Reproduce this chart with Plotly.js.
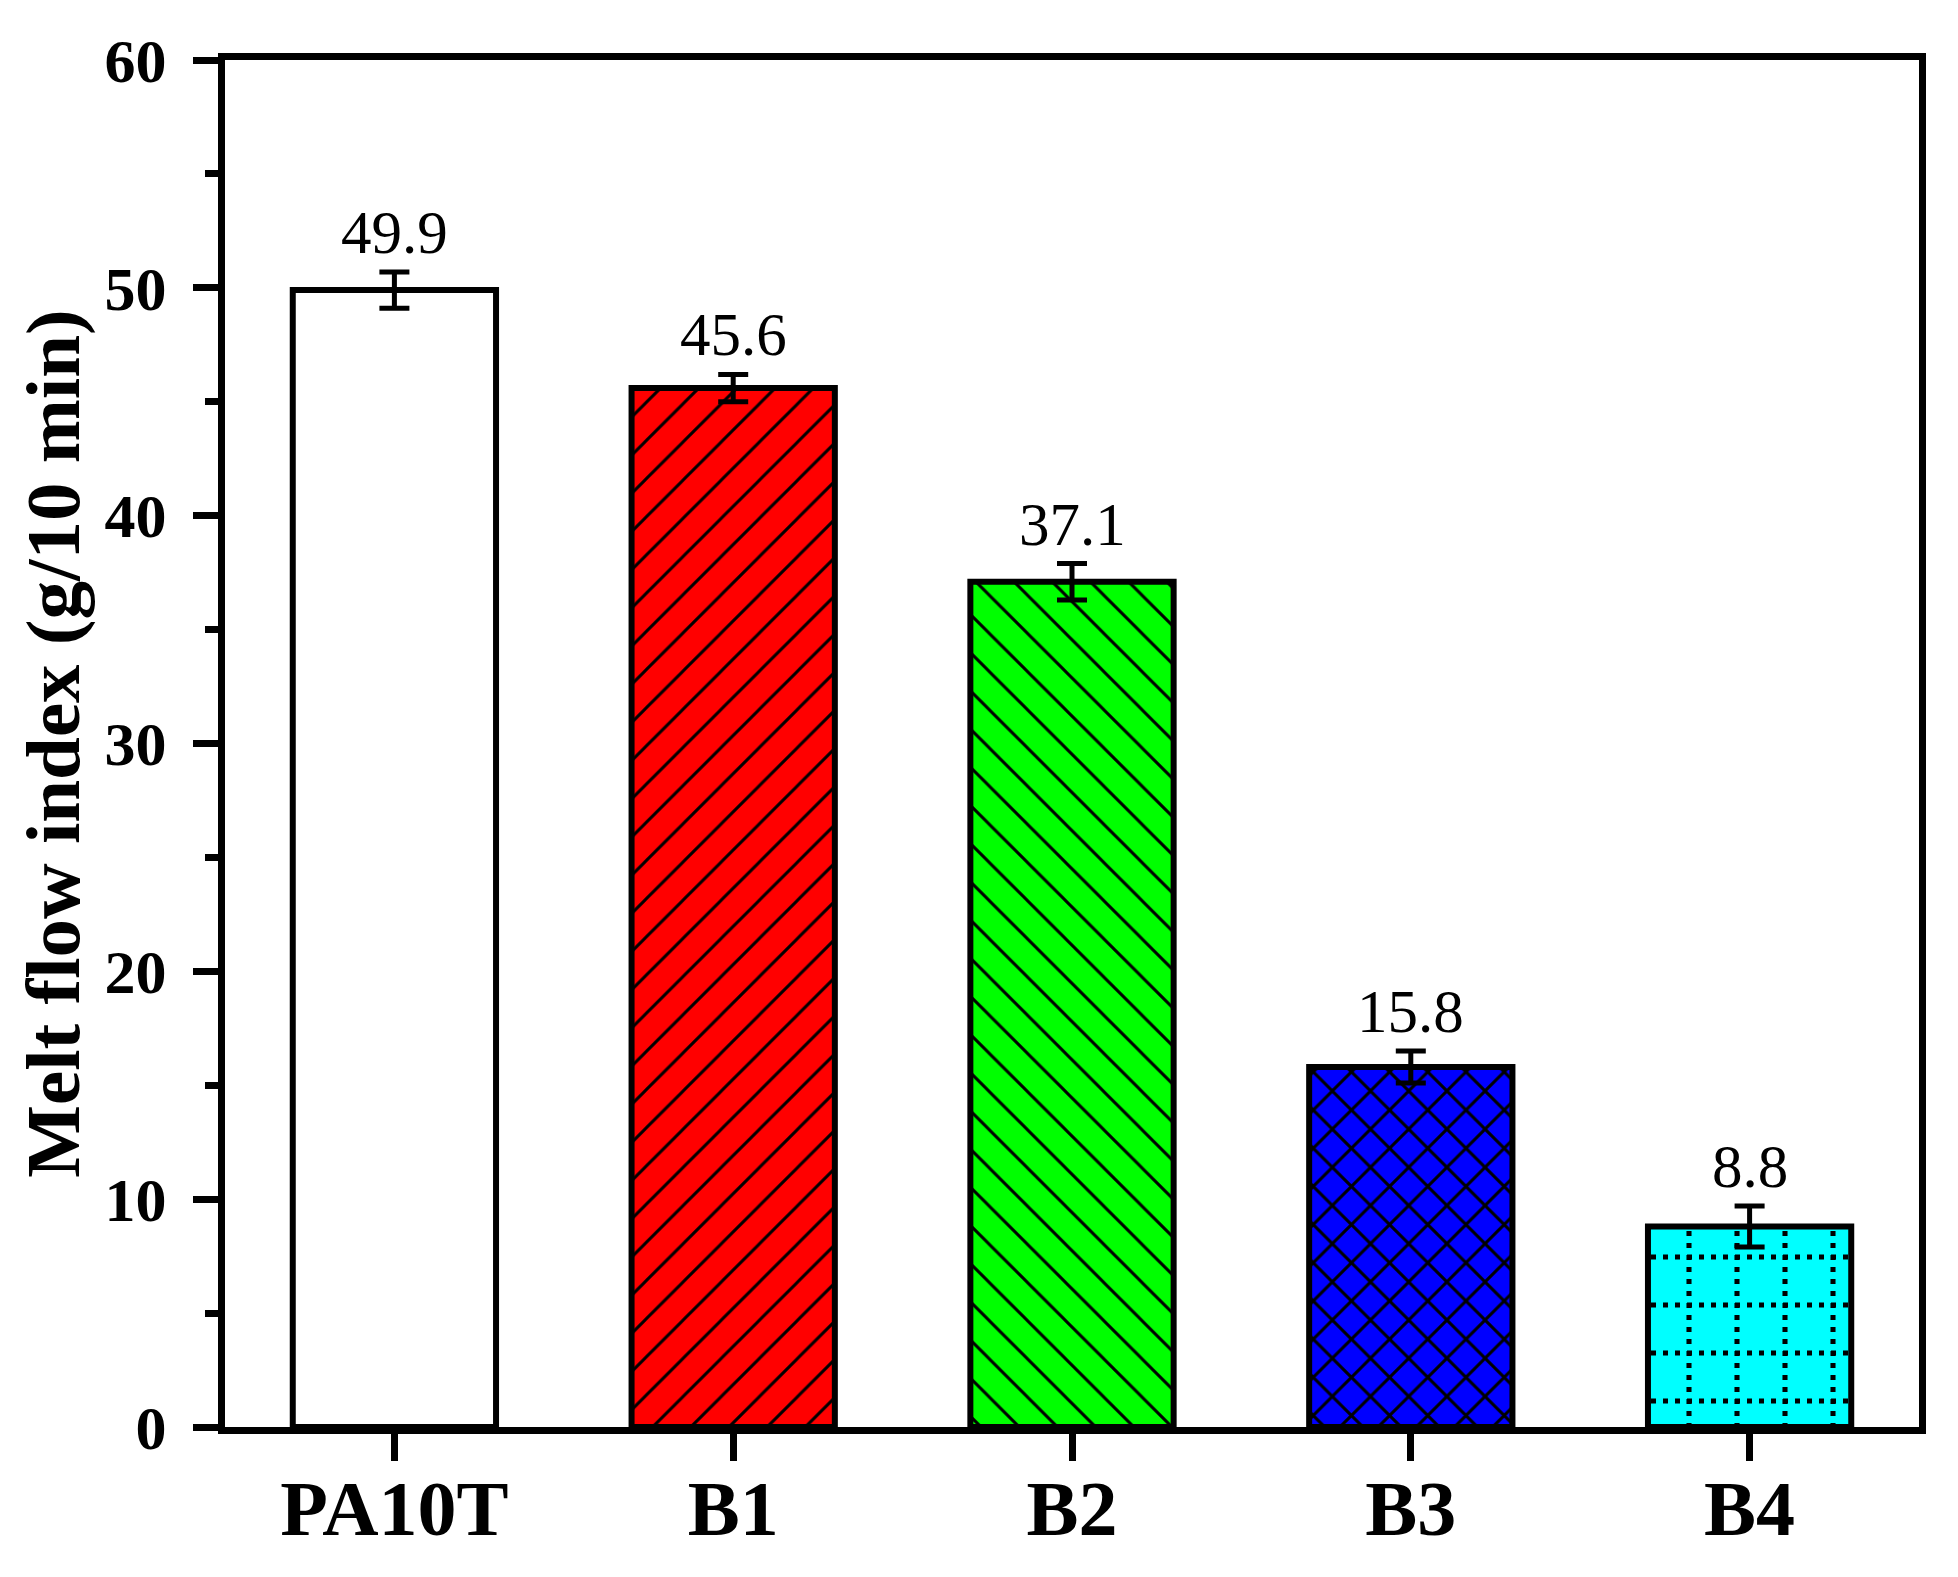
<!DOCTYPE html>
<html>
<head>
<meta charset="utf-8">
<script src="https://cdn.plot.ly/plotly-3.0.1.min.js"></script>
<style>
  html, body { margin: 0; padding: 0; background: #ffffff; }
  #chart { width: 1958px; height: 1577px; }
</style>
</head>
<body>
<div id="chart"></div>
<script>
// ---- data ----
const categories = ['PA10T', 'B1', 'B2', 'B3', 'B4'];
const mfiValues = [49.9, 45.6, 37.1, 15.8, 8.8];
const mfiErrors = [0.8, 0.6, 0.8, 0.7, 0.9];
const valueLabels = ['49.9', '45.6', '37.1', '15.8', '8.8'];
const yTickValues = [0, 10, 20, 30, 40, 50, 60];

// ---- styles ----
const fillColors = ['#FFFFFF', '#FF0000', '#00FF00', '#0000FF', '#00FFFF'];
const patternShapes = ['', '/', '\\', 'x', '+'];
const patternSizes = [27, 27, 27, 27, 48];
const patternSolidity = [0.11, 0.11, 0.11, 0.21, 0.2];
const patternFg = ['#000000', '#000000', '#000000', '#000000', '#010101'];

const serif = 'Liberation Serif, Times New Roman, serif';

const barTrace = {
  type: 'bar',
  x: categories,
  y: mfiValues,
  width: 0.6,
  marker: {
    color: '#FFFFFF',
    line: { color: '#000000', width: 6 },
    pattern: {
      shape: patternShapes,
      fillmode: 'overlay',
      bgcolor: fillColors,
      fgcolor: patternFg,
      fgopacity: 1,
      size: patternSizes,
      solidity: patternSolidity
    }
  },
  error_y: {
    type: 'data',
    array: mfiErrors,
    visible: true,
    color: '#000000',
    thickness: 5,
    width: 15
  },
  hoverinfo: 'skip',
  showlegend: false
};

const annotations = categories.map((c, i) => ({
  x: c,
  y: mfiValues[i] + mfiErrors[i],
  xref: 'x',
  yref: 'y',
  text: valueLabels[i],
  showarrow: false,
  yanchor: 'bottom',
  xanchor: 'center',
  yshift: 4,
  font: { family: serif, size: 61, color: '#000000' }
}));

const layout = {
  width: 1958,
  height: 1577,
  paper_bgcolor: '#ffffff',
  plot_bgcolor: '#ffffff',
  margin: { l: 225, r: 39, t: 60, b: 150, pad: 0 },
  showlegend: false,
  xaxis: {
    type: 'category',
    range: [-0.5, 4.5],
    showline: true,
    linecolor: '#000000',
    linewidth: 7,
    mirror: true,
    ticks: 'outside',
    ticklen: 27,
    tickwidth: 7,
    tickcolor: '#000000',
    ticklabelstandoff: -20,
    showgrid: false,
    zeroline: false,
    tickfont: { family: serif, size: 78, color: '#000000', weight: 'bold' },
    automargin: false
  },
  yaxis: {
    range: [0, 60],
    tickvals: yTickValues,
    ticktext: yTickValues.map(String),
    showline: true,
    linecolor: '#000000',
    linewidth: 7,
    mirror: true,
    ticks: 'outside',
    ticklen: 25,
    tickwidth: 7,
    tickcolor: '#000000',
    ticklabelstandoff: 14,
    minor: { dtick: 5, ticks: 'outside', ticklen: 13, tickwidth: 7, tickcolor: '#000000', showgrid: false },
    showgrid: false,
    zeroline: false,
    tickfont: { family: serif, size: 62, color: '#000000', weight: 'bold' },
    title: {
      text: 'Melt flow index (g/10 min)',
      font: { family: serif, size: 77, color: '#000000', weight: 'bold' },
      standoff: 2
    },
    automargin: false
  },
  annotations: annotations
};

Plotly.newPlot('chart', [barTrace], layout, { displayModeBar: false, staticPlot: true }).then(() => {
  // render the B4 grid pattern as dotted lines
  document.querySelectorAll('pattern path').forEach(p => {
    const s = (p.getAttribute('stroke') || '').replace(/\s/g, '');
    if (s === 'rgb(1,1,1)') {
      p.setAttribute('stroke', 'rgb(0,0,0)');
      p.setAttribute('stroke-dasharray', '5 7');
      p.setAttribute('stroke-dashoffset', '2');
      const pat = p.closest('pattern');
      if (pat) pat.setAttribute('patternTransform', 'translate(0,-27)');
    }
  });
});
</script>
</body>
</html>
